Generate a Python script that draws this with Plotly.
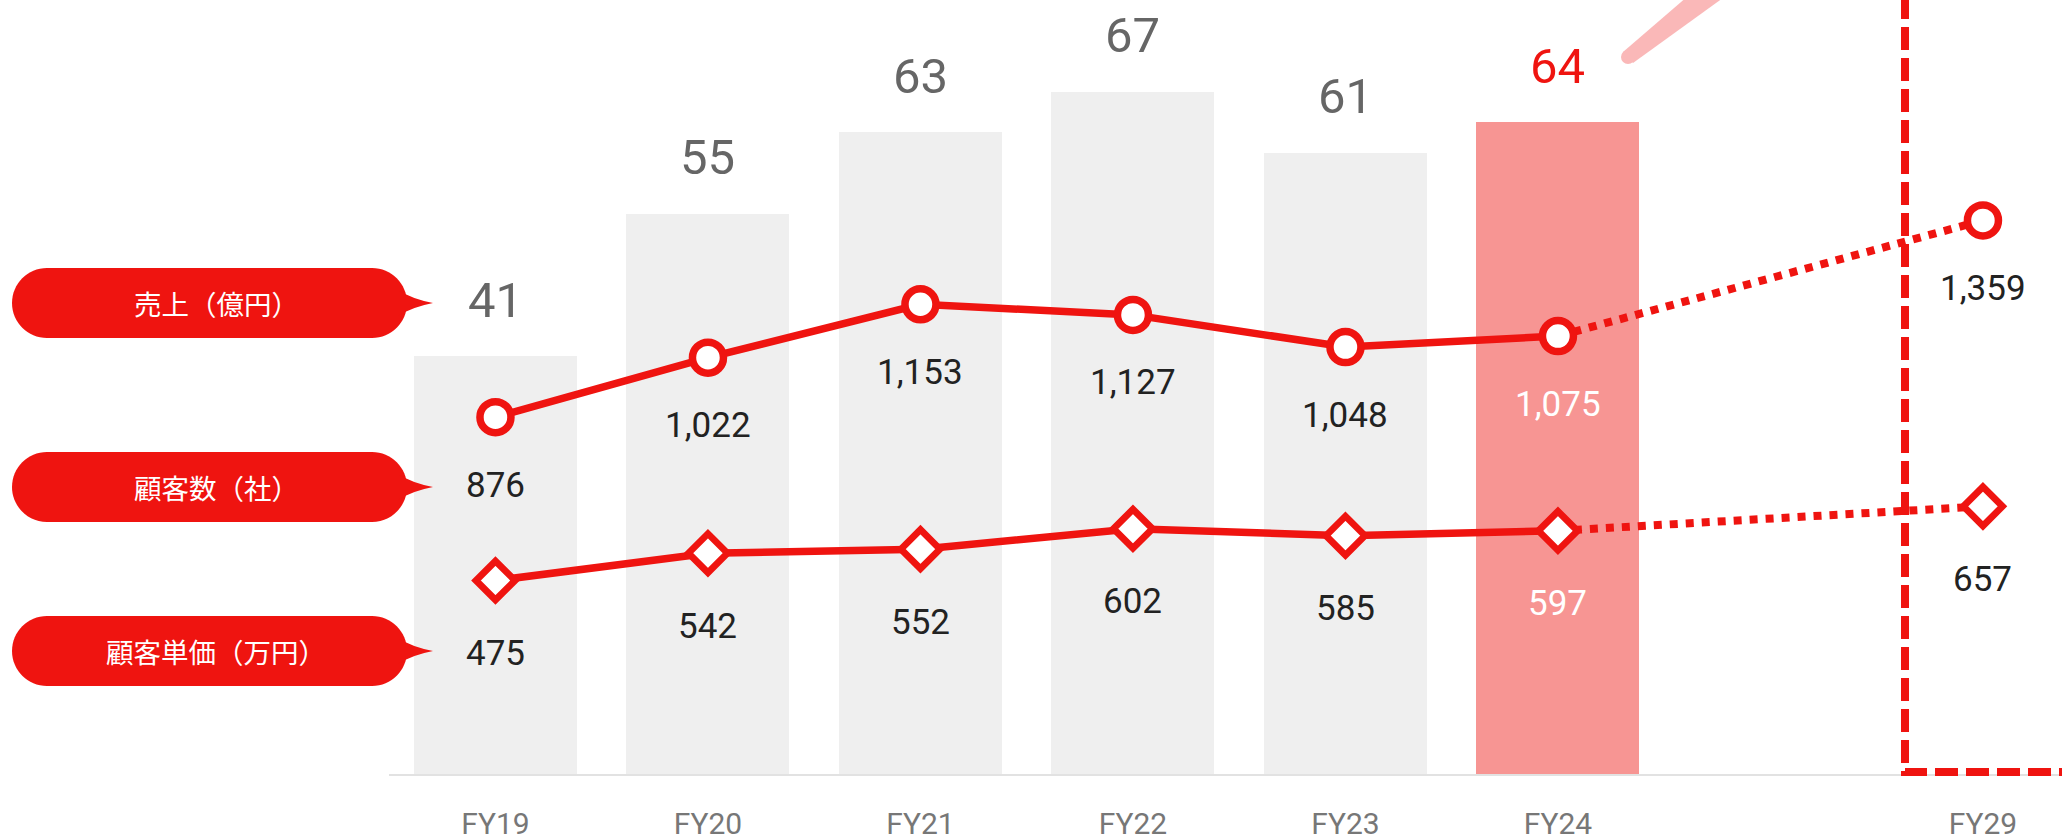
import plotly.graph_objects as go

# ---- data -------------------------------------------------------------
fiscal_years = ["FY19", "FY20", "FY21", "FY22", "FY23", "FY24", "FY29"]
sales_oku_yen = [41, 55, 63, 67, 61, 64]                       # 売上（億円）
customer_count = [876, 1022, 1153, 1127, 1048, 1075, 1359]      # 顧客数（社）
unit_price_man_yen = [475, 542, 552, 602, 585, 597, 657]        # 顧客単価（万円）
legend_labels = ["売上（億円）", "顧客数（社）", "顧客単価（万円）"]

# ---- styling ----------------------------------------------------------
W, H = 2062, 840
ML, MR, MT, MB = 389, 0, 0, 66
PW, PH = W - ML - MR, H - MT - MB
RED = "#EF1410"
PINK_BAR = "#F79593"
GRAY_BAR = "#EFEFEF"
NUM_FONT = "Roboto"
JP_FONT = "Noto Sans CJK JP"

# the axis leaves an empty slot between the actual years and the target year
actual_years = fiscal_years[:-1]
target_year = fiscal_years[-1]
category_order = actual_years + [" "] + [target_year]


def px(x):
    """horizontal pixel -> paper coordinate"""
    return (x - ML) / PW


def py(y):
    """vertical pixel -> paper coordinate"""
    return (H - MB - y) / PH


def path(points_cmds):
    out = []
    for cmd, pts in points_cmds:
        if cmd == "L":
            for a, b in pts:
                out.append(f"L{px(a):.5f},{py(b):.5f}")
        else:
            coords = " ".join(f"{px(a):.5f},{py(b):.5f}" for a, b in pts)
            out.append(f"{cmd}{coords}")
    return " ".join(out) + " Z"


fig = go.Figure()

# bars: sales
bar_colors = [GRAY_BAR] * (len(actual_years) - 1) + [PINK_BAR]
fig.add_trace(go.Bar(
    x=actual_years, y=sales_oku_yen, marker=dict(color=bar_colors, line=dict(width=0)),
    width=0.767, yaxis="y", hoverinfo="skip", showlegend=False,
))

# projection segments (FY24 -> FY29), dotted
for series in (customer_count, unit_price_man_yen):
    fig.add_trace(go.Scatter(
        x=[actual_years[-1], target_year], y=[series[-2], series[-1]],
        mode="lines", line=dict(color=RED, width=8, dash="dot"),
        yaxis="y2", hoverinfo="skip", showlegend=False,
    ))

# actual lines with markers
for series, symbol, msize, mlw in ((customer_count, "circle", 31, 7.5),
                                   (unit_price_man_yen, "diamond", 30, 6.8)):
    fig.add_trace(go.Scatter(
        x=actual_years, y=series[:-1], mode="lines+markers",
        line=dict(color=RED, width=7.5),
        marker=dict(symbol=symbol, size=msize, color="white", line=dict(color=RED, width=mlw)),
        yaxis="y2", hoverinfo="skip", showlegend=False,
    ))
    fig.add_trace(go.Scatter(
        x=[target_year], y=[series[-1]], mode="markers",
        marker=dict(symbol=symbol, size=msize, color="white", line=dict(color=RED, width=mlw)),
        yaxis="y2", hoverinfo="skip", showlegend=False,
    ))

annotations = []

# bar value labels
for i, (fy, v) in enumerate(zip(actual_years, sales_oku_yen)):
    last = i == len(actual_years) - 1
    annotations.append(dict(
        x=fy, y=v, xref="x", yref="y", text=str(v), showarrow=False,
        yanchor="middle", yshift=56,
        font=dict(family=NUM_FONT, size=49, color=RED if last else "#666666"),
    ))

# line value labels
for series, shift in ((customer_count, -68), (unit_price_man_yen, -73)):
    for i, (fy, v) in enumerate(zip(actual_years + [target_year], series)):
        on_pink = fy == actual_years[-1]
        annotations.append(dict(
            x=fy, y=v, xref="x", yref="y2", text=f"{v:,}", showarrow=False,
            yanchor="middle", yshift=shift,
            font=dict(family=NUM_FONT, size=35, color="white" if on_pink else "#222222"),
        ))

shapes = []

# legend callouts
for label, cy in zip(legend_labels, (303, 487, 651)):
    r, k = 35, 0.5523 * 35
    left, right = 12, 407
    shapes.append(dict(
        type="path", xref="paper", yref="paper", fillcolor=RED, line=dict(width=0), layer="above",
        path=path([
            ("M", [(left + r, cy - r)]),
            ("L", [(right - r, cy - r)]),
            ("C", [(right - r + k, cy - r), (right, cy - k), (right, cy)]),
            ("C", [(right, cy + k), (right - r + k, cy + r), (right - r, cy + r)]),
            ("L", [(left + r, cy + r)]),
            ("C", [(left + r - k, cy + r), (left, cy + k), (left, cy)]),
            ("C", [(left, cy - k), (left + r - k, cy - r), (left + r, cy - r)]),
        ]),
    ))
    shapes.append(dict(
        type="path", xref="paper", yref="paper", fillcolor=RED, line=dict(width=0), layer="above",
        path=path([
            ("M", [(398, cy - 13)]),
            ("Q", [(412, cy - 4), (433, cy)]),
            ("Q", [(412, cy + 4), (398, cy + 13)]),
        ]),
    ))
    annotations.append(dict(
        x=px(216), y=py(cy), xref="paper", yref="paper", text=label, showarrow=False,
        xanchor="center", yanchor="middle",
        font=dict(family=JP_FONT, size=27.5, color="white"),
    ))

# target-year frame (dashed)
shapes.append(dict(
    type="path", xref="paper", yref="paper", layer="above",
    line=dict(color=RED, width=8, dash="23px,8px"),
    path=f"M{px(1905):.5f},{py(-4):.5f} L{px(1905):.5f},{py(772):.5f} L{px(2070):.5f},{py(772):.5f}",
))

# pink pointer wedge towards the upper right
shapes.append(dict(
    type="path", xref="paper", yref="paper", fillcolor="#FAB8B8", line=dict(width=0), layer="above",
    path=path([
        ("M", [(1623, 52)]),
        ("L", [(1695, -10), (1734, -10), (1633, 63)]),
    ]),
))
shapes.append(dict(
    type="circle", xref="paper", yref="paper", fillcolor="#FAB8B8", line=dict(width=0), layer="above",
    x0=px(1621), x1=px(1635), y0=py(64), y1=py(50),
))

fig.update_layout(
    width=W, height=H, autosize=False,
    margin=dict(l=ML, r=MR, t=MT, b=MB, pad=0),
    paper_bgcolor="white", plot_bgcolor="white",
    bargap=0, showlegend=False,
    xaxis=dict(
        type="category", categoryorder="array", categoryarray=category_order,
        range=[-0.501, 7.372], showgrid=False, zeroline=False,
        showline=True, linecolor="#E2E2E2", linewidth=2,
        ticks="outside", ticklen=22, tickcolor="rgba(0,0,0,0)",
        tickfont=dict(family=NUM_FONT, size=30, color="#777777"),
        fixedrange=True,
    ),
    yaxis=dict(range=[0, 76], visible=False, fixedrange=True),
    yaxis2=dict(range=[0, 1900], visible=False, overlaying="y", side="right", fixedrange=True),
    annotations=annotations,
    shapes=shapes,
)

fig.write_html("out.html")
